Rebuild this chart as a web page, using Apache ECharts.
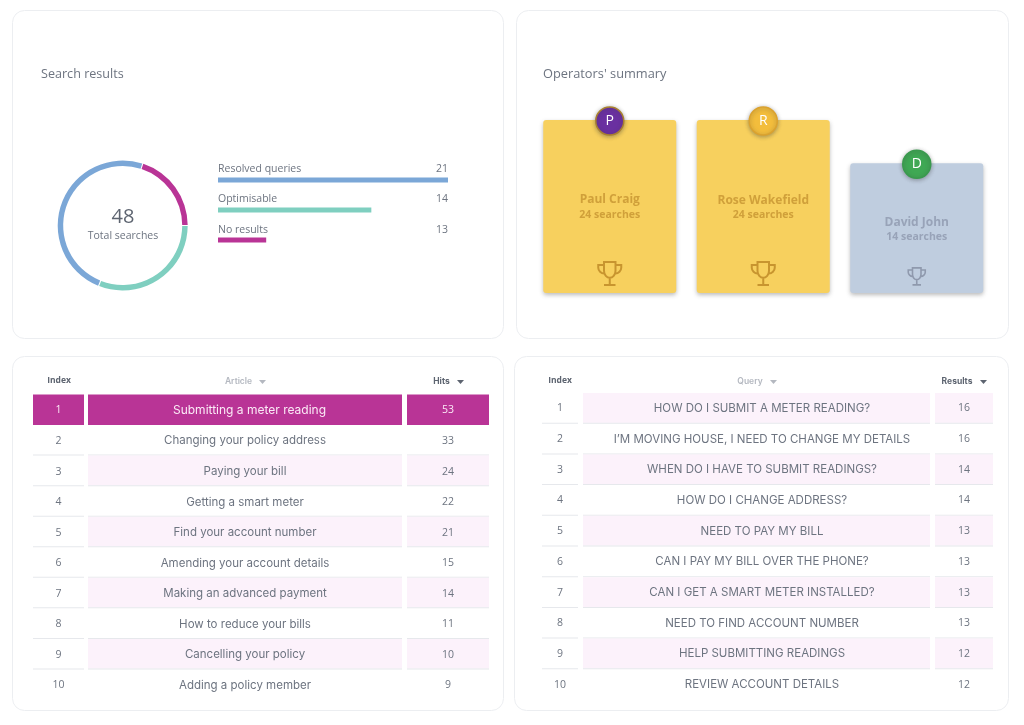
<!DOCTYPE html>
<html lang="en">
<head>
<meta charset="UTF-8">
<title>Search dashboard</title>
<script src="https://cdn.jsdelivr.net/npm/echarts@6/dist/echarts.min.js"></script>
<style>
  body { margin: 0; background: #fff; }
  #chart { width: 1024px; height: 725px; }
</style>
</head>
<body>
<div id="chart"></div>
<script>
  // search results
  const resultNames = ['Resolved queries', 'Optimisable', 'No results'];
  const resultCounts = [21, 14, 13];
  const resultBars = [21, 14, 4.4];      // the last bar is drawn much shorter than its count
  const totalSearches = 48;
  const ringNames = ['No results', 'Optimisable', 'Resolved queries'];
  const ringShares = [9.6, 14.9, 23.5];  // arc lengths as seen on the ring

  // operators
  const operators = ['Paul Craig', 'Rose Wakefield', 'David John'];
  const initials = ['P', 'R', 'D'];
  const searches = [24, 24, 14];
  const cardHeights = [24, 24, 18];

  // tables
  const rowIndex = ['1', '2', '3', '4', '5', '6', '7', '8', '9', '10'];
  const articles = ['Submitting a meter reading', 'Changing your policy address', 'Paying your bill',
    'Getting a smart meter', 'Find your account number', 'Amending your account details',
    'Making an advanced payment', 'How to reduce your bills', 'Cancelling your policy', 'Adding a policy member'];
  const hits = [53, 33, 24, 22, 21, 15, 14, 11, 10, 9];
  const queries = ['HOW DO I SUBMIT A METER READING?', 'I’M MOVING HOUSE, I NEED TO CHANGE MY DETAILS',
    'WHEN DO I HAVE TO SUBMIT READINGS?', 'HOW DO I CHANGE ADDRESS?', 'NEED TO PAY MY BILL',
    'CAN I PAY MY BILL OVER THE PHONE?', 'CAN I GET A SMART METER INSTALLED?', 'NEED TO FIND ACCOUNT NUMBER',
    'HELP SUBMITTING READINGS', 'REVIEW ACCOUNT DETAILS'];
  const results = [16, 16, 14, 14, 13, 13, 13, 13, 12, 12];

  const BLUE = '#7ba7d7', TEAL = '#7fcfc0', MAGENTA = '#b93496', PINK = '#fcf2fb';
  const INK = '#6d7480';
  const trophy = 'path://M8 4h8v6c0 3-2 5-4 5s-4-2-4-5z M8 6H4v2c0 2 2 4 4 4 M16 6h4v2c0 2-2 4-4 4 M12 15v5 M8 20h8';

  const chart = echarts.init(document.getElementById('chart'));

  function txt(x, y, text, font, fill, align) {
    return { type: 'text', z: 20, silent: true,
      style: { x: x, y: y + 0.7, text: String(text), font: font, fill: fill, align: align || 'left', verticalAlign: 'middle' } };
  }
  function panel(x, y, w, h) {
    return { type: 'rect', z: -20, silent: true, shape: { x: x, y: y, width: w, height: h, r: 12 },
      style: { fill: '#fff', stroke: '#eceef1', lineWidth: 1 } };
  }
  function caret(x, y, fill) {
    return { type: 'polygon', z: 20, silent: true, shape: { points: [[x, y], [x + 7, y], [x + 3.5, y + 4]] }, style: { fill: fill } };
  }

  const grids = [];
  const xAxes = [];
  const yAxes = [];
  const series = [];

  // one table column: its own grid with a category axis of rows
  function tableColumn(opt) {
    const g = grids.length;
    grids.push({ left: opt.left, width: opt.width, top: opt.top, height: opt.height });
    xAxes.push({ type: 'category', gridIndex: g, show: false, data: ['cell'] });
    yAxes.push({ type: 'category', gridIndex: g, show: false, inverse: true, data: rowIndex });
    series.push({
      type: 'custom', xAxisIndex: g, yAxisIndex: g, clip: false, silent: true,
      data: opt.labels.map((l, i) => [0, i]),
      renderItem: function (params, api) {
        const i = params.dataIndex;
        const c = api.coord([0, api.value(1)]);
        const s = api.size([1, 1]);
        const x0 = c[0] - s[0] / 2, y0 = c[1] - s[1] / 2;
        const hot = opt.hotFirst && i === 0;
        let bg = 'transparent';
        if (hot) bg = MAGENTA;
        else if (opt.striped && i % 2 === 0) bg = PINK;
        const children = [
          { type: 'rect', shape: { x: x0, y: y0, width: s[0], height: hot ? s[1] : s[1] - 1 }, style: { fill: bg } }
        ];
        if (i < opt.labels.length - 1 && !hot) {
          children.push({ type: 'rect', shape: { x: x0, y: y0 + s[1] - 1, width: s[0], height: 1 }, style: { fill: '#e6e8ec' } });
        }
        children.push({ type: 'text', style: {
          x: c[0] + (hot && opt.hotShift ? opt.hotShift : 0) + (opt.shift || 0),
          y: c[1] + (opt.dy || 0), text: String(opt.labels[i]),
          font: hot && opt.hotFont ? opt.hotFont : opt.font,
          fill: hot ? '#fbeaf6' : INK, align: 'center', verticalAlign: 'middle' } });
        return { type: 'group', children: children };
      }
    });
  }

  const CELL = '400 11.5px Inter, sans-serif';
  const NUM = '400 10.5px "Open Sans", sans-serif';
  const leftRows = { top: 394.5, height: 305.5, hotFirst: true, dy: 0.7 };
  const rightRows = { top: 393, height: 307 };
  tableColumn({ ...leftRows, left: 33, width: 51, labels: rowIndex, font: NUM });
  tableColumn({ ...leftRows, left: 88, width: 314, labels: articles, font: CELL, striped: true, hotFont: '400 12px Inter, sans-serif', hotShift: 4.5 });
  tableColumn({ ...leftRows, left: 407, width: 82, labels: hits, font: NUM, striped: true });
  tableColumn({ ...rightRows, left: 542, width: 36, labels: rowIndex, font: NUM });
  tableColumn({ ...rightRows, left: 583, width: 347, labels: queries, font: CELL, striped: true, shift: 5.5 });
  tableColumn({ ...rightRows, left: 935, width: 58, labels: results, font: NUM, striped: true });

  // horizontal result bars
  let g = grids.length;
  grids.push({ left: 218, width: 230, top: 165, height: 90 });
  xAxes.push({ type: 'value', gridIndex: g, show: false, min: 0, max: 21 });
  yAxes.push({ type: 'category', gridIndex: g, show: false, inverse: true, data: resultNames });
  series.push({
    type: 'bar', xAxisIndex: g, yAxisIndex: g, barWidth: 5, silent: true,
    data: resultBars.map((v, i) => ({ value: v, itemStyle: { color: [BLUE, TEAL, MAGENTA][i] } }))
  });

  // operator cards, drawn as bars with the avatars and trophies on top
  g = grids.length;
  grids.push({ left: 533, width: 460.5, top: 120, height: 173 });
  xAxes.push({ type: 'category', gridIndex: g, show: false, data: operators });
  yAxes.push({ type: 'value', gridIndex: g, show: false, min: 0, max: 24 });
  series.push({
    type: 'bar', xAxisIndex: g, yAxisIndex: g, barWidth: 133, silent: true,
    data: cardHeights.map((v, i) => ({ value: v, itemStyle: {
      color: i < 2 ? '#f7d05e' : '#bfcddf', borderRadius: 3,
      shadowBlur: 4, shadowOffsetY: 2, shadowColor: 'rgba(60,60,60,0.35)' } }))
  });
  series.push({
    type: 'scatter', xAxisIndex: g, yAxisIndex: g, z: 5, silent: true, clip: false,
    symbol: trophy,
    data: [
      { value: [0, 2.7], symbolSize: 23, itemStyle: { opacity: 1, color: 'transparent', borderColor: '#c8952f', borderWidth: 2 } },
      { value: [1, 2.7], symbolSize: 23, itemStyle: { opacity: 1, color: 'transparent', borderColor: '#c8952f', borderWidth: 2 } },
      { value: [2, 2.3], symbolSize: 17, itemStyle: { opacity: 1, color: 'transparent', borderColor: '#8f99ad', borderWidth: 1.6 } }
    ]
  });
  series.push({
    type: 'scatter', xAxisIndex: g, yAxisIndex: g, symbol: 'circle', symbolSize: 28, symbolOffset: [0, 1], z: 6, silent: true, clip: false,
    data: cardHeights.map((v, i) => ({
      value: [i, v],
      itemStyle: { opacity: 1, color: ['#6a30a0', '#f3bd3c', '#3fa854'][i], borderColor: ['#a9812f', '#dba22e', '#3a9a4e'][i],
        borderWidth: 1.5, shadowBlur: 4, shadowOffsetY: 1, shadowColor: 'rgba(60,60,60,0.4)' },
      label: { show: true, position: 'inside', formatter: initials[i], color: '#fff', fontFamily: 'Open Sans', fontSize: 14 }
    }))
  });

  // donut
  series.push({
    type: 'pie', center: [122.7, 225.5], radius: [59.5, 65], startAngle: 72, padAngle: 1, silent: true,
    label: { show: false }, labelLine: { show: false },
    data: ringShares.map((v, i) => ({ name: ringNames[i], value: v, itemStyle: { color: [MAGENTA, TEAL, BLUE][i] } }))
  });

  const OS = '"Open Sans", sans-serif';
  const graphics = [
    panel(12.5, 10.5, 491, 328), panel(516.5, 10.5, 492, 328), panel(12.5, 356.5, 491, 354), panel(514.5, 356.5, 494, 354),
    txt(41, 74, 'Search results', '400 12.6px ' + OS, INK),
    txt(543, 74, 'Operators\' summary', '400 12.8px ' + OS, INK),
    txt(123, 217, totalSearches, '400 20px ' + OS, '#5d6470', 'center'),
    txt(123, 235, 'Total searches', '400 10.5px ' + OS, INK, 'center'),
    txt(59, 380, 'Index', '700 8.5px ' + OS, '#5d6470', 'center'),
    txt(238.5, 381, 'Article', '600 8.5px Inter, sans-serif', '#b4b8c0', 'center'),
    caret(259, 380, '#b4b8c0'),
    txt(441.5, 381, 'Hits', '700 8.5px Inter, sans-serif', '#5d6470', 'center'),
    caret(457, 380, '#5d6470'),
    txt(560, 380, 'Index', '700 8.5px ' + OS, '#5d6470', 'center'),
    txt(750, 381, 'Query', '600 8.5px Inter, sans-serif', '#b4b8c0', 'center'),
    caret(770, 380, '#b4b8c0'),
    txt(957, 381, 'Results', '700 8.5px Inter, sans-serif', '#5d6470', 'center'),
    caret(980, 380, '#5d6470')
  ];
  const nameRows = [168, 198, 229];
  resultNames.forEach((n, i) => {
    graphics.push(txt(218, nameRows[i], n, '400 10.5px ' + OS, INK));
    graphics.push(txt(448, nameRows[i], resultCounts[i], '400 10.5px ' + OS, INK, 'right'));
  });
  const nameY = [199, 200, 222], subY = [214, 214, 236], cardX = [609.75, 763.25, 916.75];
  operators.forEach((n, i) => {
    const c = i < 2 ? '#d0a03a' : '#98a3b8';
    graphics.push(txt(cardX[i], nameY[i], n, '700 12px ' + OS, c, 'center'));
    graphics.push(txt(cardX[i], subY[i], searches[i] + ' searches', '700 10.5px ' + OS, c, 'center'));
  });

  chart.setOption({
    animation: false,
    grid: grids,
    xAxis: xAxes,
    yAxis: yAxes,
    series: series,
    graphic: { elements: graphics }
  });
</script>
</body>
</html>
